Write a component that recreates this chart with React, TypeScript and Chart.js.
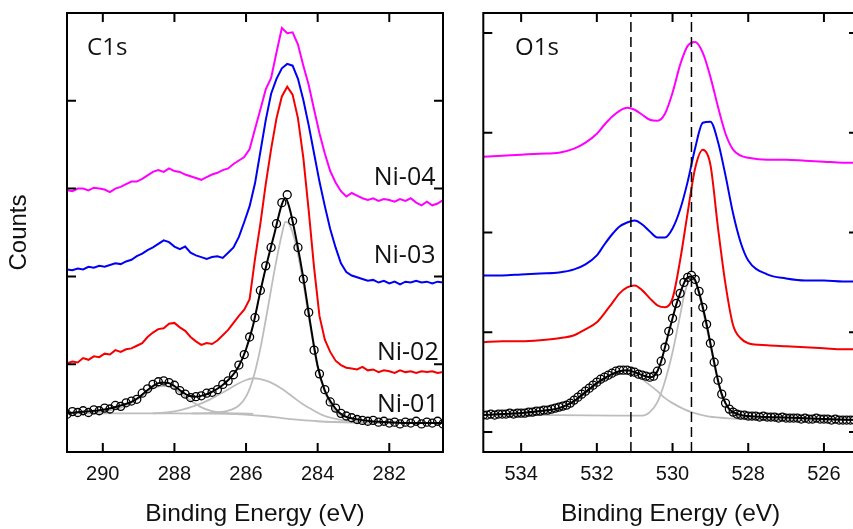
import React, { useEffect, useRef } from "react";
import { Chart, registerables } from "chart.js";

Chart.register(...registerables);

// ---------------- C1s panel data ----------------
const c1sEnergy = [
  291.0, 290.85, 290.7, 290.55, 290.4, 290.25, 290.1, 289.95, 289.8, 289.65,
  289.5, 289.35, 289.2, 289.05, 288.9, 288.75, 288.6, 288.45, 288.3, 288.15,
  288.0, 287.85, 287.7, 287.55, 287.4, 287.25, 287.1, 286.95, 286.8, 286.65,
  286.5, 286.35, 286.2, 286.05, 285.9, 285.75, 285.6, 285.45, 285.3, 285.15,
  285.0, 284.85, 284.7, 284.55, 284.4, 284.25, 284.1, 283.95, 283.8, 283.65,
  283.5, 283.35, 283.2, 283.05, 282.9, 282.75, 282.6, 282.45, 282.3, 282.15,
  282.0, 281.85, 281.7, 281.55, 281.4, 281.25, 281.1, 280.95, 280.8, 280.65,
  280.5,
];
const c1sNi01 = [
  0.43, 0.46, 0.45, 0.47, 0.45, 0.48, 0.47, 0.5, 0.49, 0.53,
  0.52, 0.56, 0.58, 0.6, 0.67, 0.72, 0.77, 0.8, 0.81, 0.79,
  0.76, 0.7, 0.66, 0.62, 0.63, 0.64, 0.67, 0.68, 0.71, 0.77,
  0.81, 0.88, 0.99, 1.11, 1.31, 1.53, 1.84, 2.12, 2.33, 2.6,
  2.84, 2.93, 2.63, 2.33, 1.97, 1.59, 1.16, 0.89, 0.71, 0.57,
  0.5, 0.44, 0.41, 0.39, 0.37, 0.36, 0.35, 0.36, 0.34, 0.35,
  0.33, 0.34, 0.32, 0.34, 0.33, 0.35, 0.32, 0.34, 0.33, 0.35,
  0.32,
];
const c1sNi02 = [
  1.01, 1.03, 1.02, 1.07, 1.05, 1.09, 1.08, 1.12, 1.11, 1.16,
  1.14, 1.17, 1.18, 1.21, 1.24, 1.31, 1.36, 1.4, 1.41, 1.46,
  1.47, 1.42, 1.38, 1.31, 1.26, 1.22, 1.24, 1.23, 1.27, 1.33,
  1.39, 1.47, 1.55, 1.62, 1.74, 2.2, 2.6, 3.05, 3.45, 3.8,
  4.05, 4.16, 4.07, 3.8, 3.35, 2.75, 2.1, 1.55, 1.28, 1.14,
  1.04, 0.99, 0.96, 0.95, 0.94, 0.97, 0.93, 0.94, 0.91, 0.93,
  0.92, 0.9, 0.93, 0.91, 0.92, 0.9, 0.92, 0.91, 0.92, 0.9,
  0.91,
];
const c1sNi03 = [
  2.08, 2.07, 2.09, 2.08, 2.11, 2.1, 2.12, 2.11, 2.13, 2.15,
  2.14, 2.17, 2.19, 2.23, 2.26, 2.3, 2.33, 2.37, 2.41, 2.39,
  2.34, 2.31, 2.34, 2.27, 2.24, 2.22, 2.2, 2.22, 2.23, 2.21,
  2.27, 2.33, 2.45, 2.62, 2.8, 3.06, 3.42, 3.78, 4.08, 4.25,
  4.37, 4.42, 4.4, 4.25, 4.01, 3.72, 3.4, 3.08, 2.8, 2.54,
  2.33, 2.15, 2.05, 2.01, 1.99, 1.97, 1.95, 1.96, 1.93, 1.95,
  1.92, 1.94, 1.91, 1.94, 1.93, 1.95, 1.93, 1.94, 1.92, 1.94,
  1.93,
];
const c1sNi04 = [
  2.98, 2.97, 3.0, 3.0, 2.98, 3.01, 3.0, 2.99, 2.96, 3.0,
  3.02, 3.05, 3.08, 3.08, 3.11, 3.15, 3.19, 3.21, 3.19, 3.23,
  3.2, 3.19, 3.16, 3.14, 3.12, 3.1, 3.13, 3.16, 3.18, 3.21,
  3.23, 3.28, 3.32, 3.36, 3.45, 3.68, 3.9, 4.13, 4.26, 4.55,
  4.83, 4.77, 4.78, 4.64, 4.4, 4.18, 3.9, 3.63, 3.4, 3.2,
  3.07, 2.97, 2.91, 2.95, 2.92, 2.89, 2.87, 2.89, 2.86, 2.88,
  2.87, 2.85, 2.88, 2.86, 2.89, 2.84, 2.81, 2.85, 2.81, 2.83,
  2.87,
];
// C1s fitted envelope and components (grey)
const c1sFitEnergy = [
  291.0, 290.5, 290.0, 289.5, 289.2, 289.0, 288.8, 288.6, 288.4, 288.2,
  288.0, 287.8, 287.6, 287.4, 287.2, 287.0, 286.8, 286.6, 286.4, 286.2,
  286.0, 285.8, 285.6, 285.4, 285.2, 285.0, 284.9, 284.8, 284.6, 284.4,
  284.2, 284.0, 283.8, 283.6, 283.4, 283.2, 283.0, 282.5, 282.0, 281.5,
  281.0, 280.5,
];
const c1sFit = [
  0.44, 0.46, 0.48, 0.53, 0.57, 0.62, 0.69, 0.75, 0.79, 0.79,
  0.75, 0.69, 0.64, 0.63, 0.645, 0.675, 0.72, 0.78, 0.86, 0.98,
  1.17, 1.45, 1.83, 2.18, 2.5, 2.82, 2.89, 2.8, 2.43, 1.98,
  1.45, 0.98, 0.7, 0.55, 0.45, 0.4, 0.38, 0.35, 0.34, 0.33,
  0.33, 0.33,
];
const c1sBgEnergy = [291.0, 288.0, 286.5, 285.5, 285.0, 284.5, 284.0, 283.0, 282.0, 280.5];
const c1sBg = [0.44, 0.44, 0.435, 0.41, 0.385, 0.365, 0.35, 0.335, 0.33, 0.33];
const c1sComp1Energy = [
  291.0, 290.5, 290.0, 289.6, 289.3, 289.0, 288.8, 288.6, 288.4, 288.2,
  288.0, 287.8, 287.6, 287.3, 287.0, 286.6, 286.2, 285.8,
];
const c1sComp1 = [
  0.44, 0.445, 0.46, 0.49, 0.54, 0.61, 0.67, 0.72, 0.75, 0.75,
  0.72, 0.66, 0.6, 0.52, 0.47, 0.445, 0.44, 0.435,
];
const c1sComp2Energy = [
  288.6, 288.2, 287.8, 287.4, 287.0, 286.6, 286.3, 286.0, 285.8, 285.6,
  285.3, 285.0, 284.7, 284.4, 284.1, 283.8, 283.4, 283.0, 282.5,
];
const c1sComp2 = [
  0.44, 0.45, 0.48, 0.53, 0.6, 0.69, 0.76, 0.82, 0.84, 0.83,
  0.79, 0.72, 0.63, 0.54, 0.47, 0.41, 0.37, 0.35, 0.335,
];
const c1sComp3Energy = [
  287.5, 287.0, 286.5, 286.2, 286.0, 285.8, 285.6, 285.4, 285.2, 285.0,
  284.9, 284.8, 284.6, 284.4, 284.2, 284.0, 283.8, 283.6, 283.4, 283.0,
  282.5, 282.0,
];
const c1sComp3 = [
  0.44, 0.445, 0.47, 0.53, 0.63, 0.84, 1.18, 1.62, 2.08, 2.48,
  2.62, 2.6, 2.35, 1.92, 1.42, 0.96, 0.68, 0.51, 0.43, 0.37,
  0.34, 0.33,
];
const c1sXTicks = [290, 288, 286, 284, 282];
const c1sYTicks = [1, 2, 3, 4];

// ---------------- O1s panel data ----------------
const o1sEnergy = [
  535.0, 534.9, 534.8, 534.7, 534.6, 534.5, 534.4, 534.3, 534.2, 534.1,
  534.0, 533.9, 533.8, 533.7, 533.6, 533.5, 533.4, 533.3, 533.2, 533.1,
  533.0, 532.9, 532.8, 532.7, 532.6, 532.5, 532.4, 532.3, 532.2, 532.1,
  532.0, 531.9, 531.8, 531.7, 531.6, 531.5, 531.4, 531.3, 531.2, 531.1,
  531.0, 530.9, 530.8, 530.7, 530.6, 530.5, 530.4, 530.3, 530.2, 530.1,
  530.0, 529.9, 529.8, 529.7, 529.6, 529.5, 529.4, 529.3, 529.2, 529.1,
  529.0, 528.9, 528.8, 528.7, 528.6, 528.5, 528.4, 528.3, 528.2, 528.1,
  528.0, 527.9, 527.8, 527.7, 527.6, 527.5, 527.4, 527.3, 527.2, 527.1,
  527.0, 526.9, 526.8, 526.7, 526.6, 526.5, 526.4, 526.3, 526.2, 526.1,
  526.0, 525.9, 525.8, 525.7, 525.6, 525.5, 525.4, 525.3, 525.2,
];
const o1sNi01 = [
  0.17, 0.17, 0.18, 0.17, 0.18, 0.18, 0.18, 0.19, 0.18, 0.19,
  0.19, 0.19, 0.2, 0.2, 0.21, 0.21, 0.22, 0.22, 0.23, 0.24,
  0.25, 0.26, 0.27, 0.29, 0.32, 0.35, 0.38, 0.41, 0.44, 0.47,
  0.5, 0.53, 0.55, 0.57, 0.59, 0.61, 0.62, 0.62, 0.62, 0.61,
  0.6, 0.58, 0.57, 0.56, 0.55, 0.56, 0.61, 0.71, 0.85, 1.01,
  1.14, 1.29, 1.39, 1.5, 1.55, 1.57, 1.53, 1.41, 1.25, 1.08,
  0.89, 0.7, 0.52, 0.38, 0.29, 0.23, 0.2, 0.18, 0.17, 0.17,
  0.16, 0.16, 0.16, 0.15, 0.16, 0.15, 0.15, 0.15, 0.14, 0.15,
  0.14, 0.14, 0.14, 0.14, 0.13, 0.14, 0.13, 0.13, 0.14, 0.13,
  0.13, 0.13, 0.12, 0.13, 0.12, 0.12, 0.12, 0.12, 0.12,
];
const o1sLineEnergy = [
  535.0, 534.5, 534.0, 533.5, 533.0, 532.6, 532.3, 532.0, 531.8, 531.6,
  531.4, 531.2, 531.0, 530.8, 530.6, 530.4, 530.2, 530.0, 529.8, 529.6,
  529.4, 529.2, 529.0, 528.8, 528.6, 528.4, 528.2, 528.0, 527.5, 527.0,
  526.5, 526.0, 525.5, 525.1,
];
const o1sNi02 = [
  0.9, 0.91, 0.91, 0.92, 0.94, 0.97, 1.03, 1.1, 1.19, 1.29,
  1.39, 1.45, 1.47, 1.42, 1.34, 1.27, 1.25, 1.34, 1.72, 2.2,
  2.65, 2.83, 2.68, 2.05, 1.48, 1.07, 0.94, 0.89, 0.87, 0.86,
  0.85, 0.84, 0.83, 0.83,
];
const o1sNi03 = [
  1.57, 1.57, 1.58, 1.59, 1.6, 1.63, 1.68, 1.77, 1.88, 1.98,
  2.06, 2.1, 2.12, 2.08, 2.01, 1.95, 1.95, 2.04, 2.23, 2.51,
  2.85, 3.1, 3.11, 2.91, 2.57, 2.19, 1.9, 1.72, 1.58, 1.54,
  1.52, 1.52, 1.51, 1.51,
];
const o1sNi04 = [
  2.76, 2.77, 2.78, 2.79, 2.8, 2.84, 2.9, 2.99, 3.08, 3.16,
  3.22, 3.25, 3.23, 3.18, 3.13, 3.12, 3.19, 3.4, 3.68, 3.87,
  3.91, 3.8, 3.56, 3.26, 2.99, 2.83, 2.77, 2.75, 2.73, 2.73,
  2.72, 2.71, 2.7, 2.7,
];
const o1sFitEnergy = [
  535.0, 534.5, 534.0, 533.5, 533.0, 532.8, 532.6, 532.4, 532.2, 532.0,
  531.8, 531.6, 531.4, 531.2, 531.0, 530.8, 530.6, 530.5, 530.4, 530.3,
  530.2, 530.1, 530.0, 529.9, 529.8, 529.7, 529.6, 529.5, 529.4, 529.3,
  529.2, 529.1, 529.0, 528.9, 528.8, 528.7, 528.6, 528.5, 528.4, 528.2,
  528.0, 527.5, 527.0, 526.0, 525.1,
];
const o1sFit = [
  0.17, 0.18, 0.19, 0.21, 0.24, 0.27, 0.31, 0.37, 0.43, 0.49,
  0.54, 0.58, 0.61, 0.62, 0.6, 0.57, 0.55, 0.56, 0.61, 0.71,
  0.85, 1.0, 1.14, 1.28, 1.39, 1.49, 1.55, 1.56, 1.52, 1.4,
  1.25, 1.08, 0.89, 0.7, 0.52, 0.38, 0.29, 0.23, 0.2, 0.17,
  0.16, 0.15, 0.145, 0.13, 0.12,
];
const o1sCompAEnergy = [
  535.0, 534.0, 533.0, 532.6, 532.2, 531.8, 531.5, 531.3, 531.1, 530.9,
  530.7, 530.4, 530.2, 530.0, 529.7, 529.5, 529.1, 528.6, 528.2, 527.0,
  525.1,
];
const o1sCompA = [
  0.17, 0.19, 0.24, 0.31, 0.43, 0.54, 0.6, 0.615, 0.6, 0.56,
  0.5, 0.41, 0.34, 0.29, 0.23, 0.2, 0.16, 0.14, 0.13, 0.12,
  0.12,
];
const o1sCompBEnergy = [
  535.0, 533.0, 531.5, 530.8, 530.6, 530.4, 530.2, 530.0, 529.8, 529.7,
  529.6, 529.5, 529.4, 529.3, 529.2, 529.1, 529.0, 528.9, 528.8, 528.7,
  528.6, 528.5, 528.4, 528.2, 528.0, 527.0, 525.1,
];
const o1sCompB = [
  0.17, 0.17, 0.165, 0.165, 0.2, 0.3, 0.51, 0.8, 1.17, 1.36,
  1.49, 1.54, 1.5, 1.38, 1.22, 1.05, 0.87, 0.68, 0.51, 0.37,
  0.28, 0.22, 0.18, 0.15, 0.14, 0.13, 0.12,
];
const o1sRefLines = [531.1, 529.5];
const o1sXTicks = [534, 532, 530, 528, 526];
const o1sYTicks = [0, 1, 2, 3, 4];

const sampleNames = ["Ni-01", "Ni-02", "Ni-03", "Ni-04"];

// ---------------- styling ----------------
const SANS = "'Liberation Sans', Arial, sans-serif";
const LABEL_FONT = "'Open Sans', 'Noto Sans', sans-serif";
const MAGENTA = "#ff00ff";
const BLUE = "#0000f5";
const RED = "#f50000";
const GREY = "#bdbdbd";

const pts = (xs: number[], ys: number[]) => xs.map((x, i) => ({ x, y: ys[i] }));

function lineDs(xs: number[], ys: number[], color: string, width: number, smooth: boolean) {
  return {
    data: pts(xs, ys),
    borderColor: color,
    backgroundColor: color,
    borderWidth: width,
    pointRadius: 0,
    fill: false,
    tension: 0,
    cubicInterpolationMode: smooth ? "monotone" : "default",
  };
}

function circleDs(xs: number[], ys: number[]) {
  return {
    data: pts(xs, ys),
    showLine: false,
    pointRadius: 4,
    pointBorderWidth: 1.3,
    pointBorderColor: "#000",
    pointBackgroundColor: "rgba(0,0,0,0)",
  };
}

type TextItem = { text: string; x: number; y: number; align: CanvasTextAlign; size: number };

const framePlugin = (xTicks: number[], yTicks: number[]) => ({
  id: "frameTicks",
  afterDraw(chart: any) {
    const { ctx, chartArea: a, scales } = chart;
    const x = scales.x;
    const y = scales.y;
    const tl = 9;
    ctx.save();
    ctx.strokeStyle = "#000";
    ctx.lineWidth = 2;
    ctx.strokeRect(a.left, a.top, a.right - a.left, a.bottom - a.top);
    ctx.beginPath();
    for (const v of xTicks) {
      const px = x.getPixelForValue(v);
      ctx.moveTo(px, a.bottom);
      ctx.lineTo(px, a.bottom - tl);
      ctx.moveTo(px, a.top);
      ctx.lineTo(px, a.top + tl);
    }
    for (const v of yTicks) {
      const py = y.getPixelForValue(v);
      ctx.moveTo(a.left, py);
      ctx.lineTo(a.left + tl, py);
      ctx.moveTo(a.right, py);
      ctx.lineTo(a.right - tl, py);
    }
    ctx.stroke();
    ctx.restore();
  },
});

const textPlugin = (items: TextItem[]) => ({
  id: "panelText",
  afterDraw(chart: any) {
    const { ctx, scales } = chart;
    ctx.save();
    ctx.fillStyle = "#111";
    ctx.textBaseline = "alphabetic";
    for (const it of items) {
      ctx.font = `${it.size}px ${LABEL_FONT}`;
      ctx.textAlign = it.align;
      ctx.fillText(it.text, scales.x.getPixelForValue(it.x), scales.y.getPixelForValue(it.y));
    }
    ctx.restore();
  },
});

type PanelSpec = {
  xMin: number;
  xMax: number;
  yMin: number;
  yMax: number;
  xTicks: number[];
  yTicks: number[];
  yWidth: number;
  padRight: number;
  yTitle: string | null;
  datasets: any[];
  labels: TextItem[];
};

function makeConfig(p: PanelSpec): any {
  return {
    type: "line",
    data: { datasets: p.datasets },
    options: {
      responsive: false,
      animation: false,
      events: [],
      layout: { padding: { top: 13, right: p.padRight, left: 0, bottom: 0 } },
      plugins: { legend: { display: false }, tooltip: { enabled: false }, title: { display: false } },
      scales: {
        x: {
          type: "linear",
          position: "bottom",
          min: p.xMin,
          max: p.xMax,
          reverse: true,
          afterBuildTicks: (s: any) => {
            s.ticks = p.xTicks.map((v) => ({ value: v }));
          },
          afterFit: (s: any) => {
            s.height = 77;
          },
          grid: { display: false, drawTicks: false },
          border: { display: false },
          ticks: {
            font: { family: SANS, size: 20 },
            color: "#111",
            padding: 10,
            maxRotation: 0,
            autoSkip: false,
            callback: (v: any) => String(v),
          },
          title: {
            display: true,
            text: "Binding Energy (eV)",
            font: { family: SANS, size: 24.5 },
            color: "#111",
            padding: { top: 0, bottom: 0 },
          },
        },
        y: {
          type: "linear",
          min: p.yMin,
          max: p.yMax,
          afterFit: (s: any) => {
            s.width = p.yWidth;
          },
          grid: { display: false, drawTicks: false },
          border: { display: false },
          ticks: { display: false },
          title: p.yTitle
            ? {
                display: true,
                text: p.yTitle,
                font: { family: SANS, size: 24 },
                color: "#111",
                padding: { top: 5, bottom: 0 },
              }
            : { display: false },
        },
      },
    },
    plugins: [framePlugin(p.xTicks, p.yTicks), textPlugin(p.labels)],
  };
}

const C1S: PanelSpec = {
  xMin: 280.5,
  xMax: 291,
  yMin: 0,
  yMax: 5,
  xTicks: c1sXTicks,
  yTicks: c1sYTicks,
  yWidth: 67,
  padRight: 17,
  yTitle: "Counts",
  datasets: [
    circleDs(c1sEnergy, c1sNi01),
    lineDs(c1sFitEnergy, c1sFit, "#000", 2, true),
    lineDs(c1sEnergy, c1sNi02, RED, 2, false),
    lineDs(c1sEnergy, c1sNi03, BLUE, 2, false),
    lineDs(c1sEnergy, c1sNi04, MAGENTA, 2, false),
    lineDs(c1sComp3Energy, c1sComp3, GREY, 1.8, true),
    lineDs(c1sComp2Energy, c1sComp2, GREY, 1.8, true),
    lineDs(c1sComp1Energy, c1sComp1, GREY, 1.8, true),
    lineDs(c1sBgEnergy, c1sBg, GREY, 1.8, true),
  ],
  labels: [
    { text: "C1s", x: 290.44, y: 4.52, align: "left", size: 24 },
    { text: sampleNames[3], x: 280.71, y: 3.04, align: "right", size: 25 },
    { text: sampleNames[2], x: 280.71, y: 2.15, align: "right", size: 25 },
    { text: sampleNames[1], x: 280.62, y: 1.05, align: "right", size: 25 },
    { text: sampleNames[0], x: 280.62, y: 0.45, align: "right", size: 25 },
  ],
};

const O1S_YMIN = -0.2;
const O1S_YMAX = 4.2;

const O1S: PanelSpec = {
  xMin: 525.1,
  xMax: 535,
  yMin: O1S_YMIN,
  yMax: O1S_YMAX,
  xTicks: o1sXTicks,
  yTicks: o1sYTicks,
  yWidth: 23.3,
  padRight: 12,
  yTitle: null,
  datasets: [
    ...o1sRefLines.map((v) => ({
      data: [
        { x: v, y: O1S_YMIN },
        { x: v, y: O1S_YMAX },
      ],
      borderColor: "#000",
      borderWidth: 1.5,
      borderDash: [10, 5],
      pointRadius: 0,
      tension: 0,
    })),
    circleDs(o1sEnergy, o1sNi01),
    lineDs(o1sFitEnergy, o1sFit, "#000", 2, true),
    lineDs(o1sLineEnergy, o1sNi02, RED, 2, true),
    lineDs(o1sLineEnergy, o1sNi03, BLUE, 2, true),
    lineDs(o1sLineEnergy, o1sNi04, MAGENTA, 2, true),
    lineDs(o1sCompBEnergy, o1sCompB, GREY, 1.8, true),
    lineDs(o1sCompAEnergy, o1sCompA, GREY, 1.8, true),
  ],
  labels: [{ text: "O1s", x: 534.16, y: 3.78, align: "left", size: 24 }],
};

function Panel({ spec, left, width }: { spec: PanelSpec; left: number; width: number }) {
  const ref = useRef<HTMLCanvasElement>(null);
  useEffect(() => {
    const chart = new Chart(ref.current as HTMLCanvasElement, makeConfig(spec));
    return () => chart.destroy();
  }, [spec]);
  return (
    <canvas
      ref={ref}
      width={width}
      height={529}
      style={{ position: "absolute", left, top: 0, width, height: 529 }}
    />
  );
}

export default function App() {
  return (
    <div
      style={{
        position: "fixed",
        left: 0,
        top: 0,
        width: 853,
        height: 529,
        overflow: "hidden",
        background: "#fff",
      }}
    >
      <Panel spec={C1S} left={0} width={460} />
      <Panel spec={O1S} left={460} width={410} />
    </div>
  );
}
